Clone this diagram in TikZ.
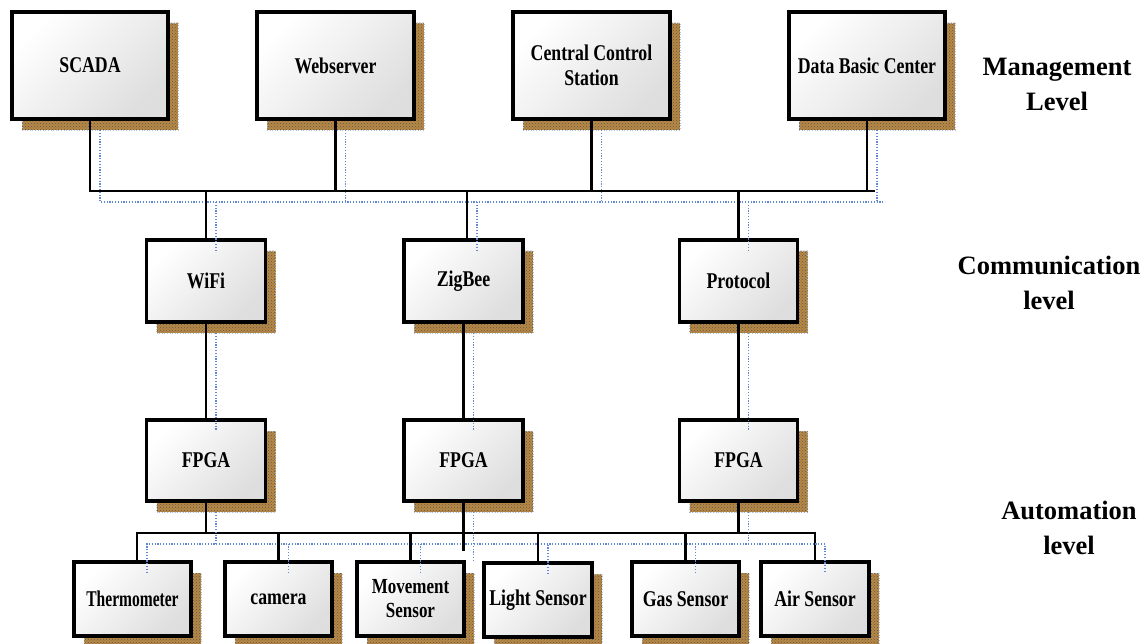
\documentclass[tikz,border=0pt]{standalone}
\usepackage{fontspec}
\setmainfont{Liberation Serif}
\newfontfamily\boxfont[FakeStretch=0.79]{Liberation Serif}
\newfontfamily\thinboxfont[FakeStretch=0.69]{Liberation Serif}
\usetikzlibrary{patterns,shadows,calc}
\definecolor{shadowbrown}{RGB}{184,136,66}
\definecolor{dotblue}{RGB}{95,135,210}
\begin{document}
\begin{tikzpicture}[x=1pt,y=-1pt,
  box/.style={top color=white, bottom color=black!13, shading angle=45,
    font=\boxfont\bfseries\fontsize{22.5}{25}\selectfont, align=center, inner sep=0pt,
    general shadow={shadow xshift=10pt, shadow yshift=-11pt, fill=shadowbrown, draw=dotblue!50, line width=0.6pt, dotted},
    general shadow={shadow xshift=10pt, shadow yshift=-11pt, pattern=crosshatch dots, pattern color=black!65},
    postaction={draw=black, line width=3.2pt}},
  conn/.style={draw=black, line width=2.8pt},
  ghost/.style={draw=dotblue, line width=1.3pt, dash pattern=on 1.2pt off 1.6pt, transform canvas={xshift=10pt, yshift=-11pt}},
  level/.style={font=\bfseries\fontsize{26.5}{35}\selectfont, align=center, inner sep=0pt}]
\useasboundingbox (0,0) rectangle (1146,644);

% Management row
\node[box, minimum width=156, minimum height=107] (scada) at (90,65.5) {SCADA};
\node[box, minimum width=157, minimum height=107] (web) at (335.5,65.5) {Webserver};
\node[box, minimum width=157, minimum height=107] (ccs) at (591.5,65.5) {Central Control\\Station};
\node[box, minimum width=156, minimum height=107] (dbc) at (867,65.5) {Data Basic Center};

% Communication row
\node[box, minimum width=119, minimum height=82] (wifi) at (206,281) {WiFi};
\node[box, minimum width=119, minimum height=82] (zig) at (463.5,281) {ZigBee};
\node[box, minimum width=118, minimum height=82] (prot) at (738.5,281) {Protocol};

% FPGA row
\node[box, minimum width=119, minimum height=81] (f1) at (206,460.5) {FPGA};
\node[box, minimum width=119, minimum height=81] (f2) at (463.5,460.5) {FPGA};
\node[box, minimum width=118, minimum height=81] (f3) at (738.5,460.5) {FPGA};

% Sensors
\node[box, minimum width=117, minimum height=74, font=\thinboxfont\bfseries\fontsize{22.5}{25}\selectfont] (thermo) at (132.5,599) {Thermometer};
\node[box, minimum width=107, minimum height=74] (cam) at (278.5,599) {camera};
\node[box, minimum width=107, minimum height=74, font=\boxfont\bfseries\fontsize{21.5}{24}\selectfont] (move) at (410.5,599) {Movement\\Sensor};
\node[box, minimum width=108, minimum height=74] (light) at (538,600) {Light Sensor};
\node[box, minimum width=107, minimum height=74] (gas) at (685.5,599) {Gas Sensor};
\node[box, minimum width=108, minimum height=74] (air) at (815,599) {Air Sensor};

% Level labels
\node[level] (lm) at (1057,84) {Management\\Level};
\node[level] (lc) at (1049,283) {Communication\\level};
\node[level] (la) at (1069,528) {Automation\\level};

% bus coordinates
\coordinate (busT) at (875,191);
\coordinate (busB) at (815,533);
\coordinate (stub) at (463,551);

\newcommand\wire[1]{\draw[conn] #1; \draw[ghost] #1;}

% top bus
\wire{(scada.south) |- (busT)}
\wire{(web.south) -- (web.south |- busT)}
\wire{(ccs.south) -- (ccs.south |- busT)}
\wire{(dbc.south) -- (dbc.south |- busT)}
\wire{(wifi.north) -- (wifi.north |- busT)}
\wire{([xshift=3.5pt]zig.north) -- ([xshift=3.5pt]zig.north |- busT)}
\wire{(prot.north) -- (prot.north |- busT)}

% comm to FPGA
\wire{(wifi.south) -- (f1.north)}
\wire{(zig.south) -- (f2.north)}
\wire{(prot.south) -- (f3.north)}

% bottom bus
\wire{([xshift=4.5pt]thermo.north) |- (busB) -- (air.north)}
\wire{(f1.south) -- (f1.south |- busB)}
\wire{(f2.south) -- (f2.south |- stub)}
\wire{(f3.south) -- (f3.south |- busB)}
\wire{(cam.north) -- (cam.north |- busB)}
\wire{(move.north) -- (move.north |- busB)}
\wire{(light.north) -- (light.north |- busB)}
\wire{(gas.north) -- (gas.north |- busB)}
\end{tikzpicture}
\end{document}
